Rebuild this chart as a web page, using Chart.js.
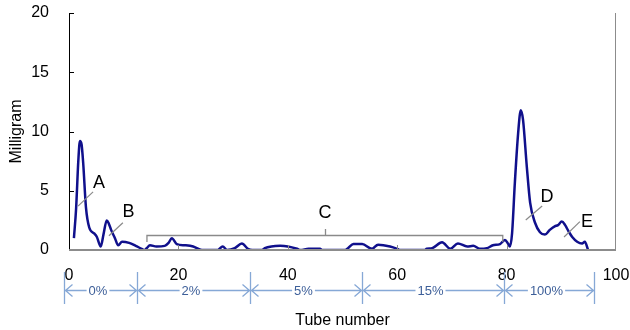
<!DOCTYPE html>
<html><head><meta charset="utf-8">
<script src="https://cdn.jsdelivr.net/npm/chart.js@4/dist/chart.umd.min.js"></script>
<style>html,body{margin:0;padding:0;background:#fff}</style>
</head><body>
<canvas id="c" width="630" height="330"></canvas>
<script>
// Data
const tubes = [0.9,1.3,1.7,2.0,2.3,2.6,3.1,3.7,4.6,5.1,5.8,6.3,6.9,7.3,7.7,8.4,9.0,9.7,11.0,12.2,13.3,13.8,
  14.2,14.8,16.0,17.5,18.2,18.8,19.7,21.2,22.7,24.3,27.2,28.1,28.9,30.3,31.6,32.7,33.5,35.3,35.8,37.0,38.6,40.0,41.7,42.3,
  43.8,45.9,46.3,50.5,51.0,52.0,53.6,55.4,56.5,58.7,60.0,60.5,65.0,65.4,66.4,68.2,69.7,71.1,72.8,73.9,75.1,76.4,77.5,78.8,
  79.7,80.3,80.6,81.0,81.5,82.1,82.6,83.0,83.7,84.3,85.2,86.1,87.0,87.9,88.8,89.4,90.1,90.7,91.3,92.0,92.9,93.8,94.3,94.9];
const milligram = [1.0,3.5,7.5,9.2,8.9,7.3,3.6,1.9,1.4,1.1,0.3,1.3,2.5,2.2,1.7,1.0,0.4,0.7,0.6,0.35,0.1,0.0,
  0.15,0.4,0.3,0.35,0.6,1.0,0.5,0.4,0.3,0.0,0.0,0.3,0.0,0.15,0.55,0.1,0.0,0.0,0.15,0.3,0.35,0.3,0.1,0.0,
  0.1,0.1,0.0,0.0,0.15,0.5,0.5,0.1,0.45,0.3,0.1,0.0,0.0,0.1,0.15,0.65,0.1,0.55,0.3,0.35,0.1,0.15,0.4,0.5,
  0.85,0.5,0.3,1.4,5.6,9.8,11.8,11.0,7.0,4.0,2.3,1.5,1.3,1.7,2.0,2.1,2.4,2.1,1.6,1.1,0.7,0.55,0.7,0.0];
const xTickValues = [0,20,40,60,80,100];
const yTickValues = [0,5,10,15,20];

// Peak labels (tube, mg) and leader lines
const peakNames = ['A','B','C','D','E'];
const peakTextX = [5.5,10.9,46.8,87.4,94.7];
const peakTextY = [5.65,3.2,3.1,4.5,2.4];
const leaderX1 = [1.65,7.3,null,83.5,90.5];
const leaderY1 = [3.7,1.2,null,2.53,1.1];
const leaderX2 = [4.4,9.85,null,86.5,93.4];
const leaderY2 = [4.9,2.3,null,3.71,2.4];
// Fraction C bracket
const bracketStart = 14.25, bracketEnd = 79.3, bracketLevel = 1.26, bracketFoot = 0.67, bracketTop = 1.77, bracketMid = 46.8;

// Solvent steps
const stepBounds = [-1,12.5,33,53.5,79.5,96];
const stepLabels = ['0%','2%','5%','15%','100%'];

const FONT = 'Liberation Sans, Arial, sans-serif';

const decor = {
  id: 'decor',
  afterDatasetsDraw(chart) {
    const {ctx, chartArea: a, scales: {x, y}} = chart;
    ctx.save();
    ctx.lineWidth = 1;
    ctx.strokeStyle = '#000';
    ctx.beginPath(); ctx.moveTo(a.left + 0.5, a.top); ctx.lineTo(a.left + 0.5, a.bottom); ctx.stroke();
    yTickValues.forEach(v => {
      const py = Math.round(y.getPixelForValue(v)) + 0.5;
      ctx.beginPath(); ctx.moveTo(a.left, py); ctx.lineTo(a.left + 5, py); ctx.stroke();
    });
    ctx.strokeStyle = '#8c8c8c';
    ctx.beginPath(); ctx.moveTo(a.right - 0.5, a.top); ctx.lineTo(a.right - 0.5, a.bottom); ctx.stroke();
    ctx.lineWidth = 2;
    ctx.beginPath(); ctx.moveTo(a.left, a.bottom); ctx.lineTo(a.right, a.bottom); ctx.stroke();
    ctx.lineWidth = 1;
    xTickValues.slice(1, -1).forEach(v => {
      const px = Math.round(x.getPixelForValue(v)) + 0.5;
      ctx.beginPath(); ctx.moveTo(px, a.bottom); ctx.lineTo(px, a.bottom - 5); ctx.stroke();
    });

    ctx.strokeStyle = '#8a8a8a';
    ctx.lineWidth = 1.2;
    peakNames.forEach((n, i) => {
      if (leaderX1[i] === null) return;
      ctx.beginPath();
      ctx.moveTo(x.getPixelForValue(leaderX1[i]), y.getPixelForValue(leaderY1[i]));
      ctx.lineTo(x.getPixelForValue(leaderX2[i]), y.getPixelForValue(leaderY2[i]));
      ctx.stroke();
    });
    const bx1 = x.getPixelForValue(bracketStart), bx2 = x.getPixelForValue(bracketEnd);
    const by = Math.round(y.getPixelForValue(bracketLevel)) + 0.5;
    const bf = y.getPixelForValue(bracketFoot), bt = y.getPixelForValue(bracketTop);
    const bm = Math.round(x.getPixelForValue(bracketMid)) + 0.5;
    ctx.lineWidth = 1.3;
    ctx.beginPath();
    ctx.moveTo(bx1, bf); ctx.lineTo(bx1, by); ctx.lineTo(bx2, by); ctx.lineTo(bx2, bf);
    ctx.moveTo(bm, by); ctx.lineTo(bm, bt);
    ctx.stroke();
    ctx.fillStyle = '#000';
    ctx.font = '18px ' + FONT;
    ctx.textAlign = 'center'; ctx.textBaseline = 'middle';
    peakNames.forEach((n, i) => {
      ctx.fillText(n, x.getPixelForValue(peakTextX[i]), y.getPixelForValue(peakTextY[i]));
    });

    const lineY = 290.5, vTop = 272, vBot = 304;
    ctx.strokeStyle = '#86a8d6';
    ctx.lineWidth = 1.3;
    const bpx = stepBounds.map(v => Math.round(x.getPixelForValue(v)) + 0.5);
    bpx.forEach(px => { ctx.beginPath(); ctx.moveTo(px, vTop); ctx.lineTo(px, vBot); ctx.stroke(); });
    ctx.font = '13px ' + FONT;
    stepLabels.forEach((lab, i) => {
      const l = bpx[i], r = bpx[i + 1];
      const cx = (l + r) / 2 - 3;
      const w = ctx.measureText(lab).width;
      ctx.beginPath();
      ctx.moveTo(l, lineY); ctx.lineTo(cx - w / 2 - 2, lineY);
      ctx.moveTo(cx + w / 2 + 2, lineY); ctx.lineTo(r, lineY);
      ctx.moveTo(l + 8, lineY - 6); ctx.lineTo(l + 1, lineY); ctx.lineTo(l + 8, lineY + 6);
      ctx.moveTo(r - 8, lineY - 6); ctx.lineTo(r - 1, lineY); ctx.lineTo(r - 8, lineY + 6);
      ctx.stroke();
      ctx.fillStyle = '#3d5f99';
      ctx.fillText(lab, cx, lineY + 1);
    });
    ctx.restore();
  }
};

new Chart(document.getElementById('c'), {
  type: 'line',
  data: {
    datasets: [{
      data: tubes.map((t, i) => ({x: t, y: milligram[i]})),
      borderColor: '#10108c',
      borderWidth: 2.5,
      pointRadius: 0,
      cubicInterpolationMode: 'monotone',
      fill: false
    }]
  },
  options: {
    responsive: false,
    animation: false,
    events: [],
    layout: {padding: {top: 13, right: 14, left: 0, bottom: 0}},
    plugins: {legend: {display: false}, tooltip: {enabled: false}},
    scales: {
      x: {
        type: 'linear', min: 0, max: 100,
        afterBuildTicks: s => { s.ticks = xTickValues.map(v => ({value: v})); },
        grid: {display: false}, border: {display: false},
        ticks: {padding: 8, color: '#000', font: {family: FONT, size: 16}, maxRotation: 0, autoSkip: false},
        title: {display: true, text: 'Tube number', color: '#000', font: {family: FONT, size: 16}, padding: {top: 0, bottom: 0}},
        afterFit: s => { s.height = 80; s.paddingLeft = 0; s.paddingRight = 0; s.paddingTop = 0; s.paddingBottom = 0; }
      },
      y: {
        min: 0, max: 20,
        afterBuildTicks: s => { s.ticks = yTickValues.map(v => ({value: v})); },
        grid: {display: false}, border: {display: false},
        ticks: {padding: 12, color: '#000', font: {family: FONT, size: 16}},
        title: {display: true, text: 'Milligram', color: '#000', font: {family: FONT, size: 16}, padding: {top: 7, bottom: 0}},
        afterFit: s => { s.width = 69; s.paddingLeft = 0; s.paddingRight = 0; s.paddingTop = 0; s.paddingBottom = 0; }
      }
    }
  },
  plugins: [decor]
});
</script>
</body></html>
